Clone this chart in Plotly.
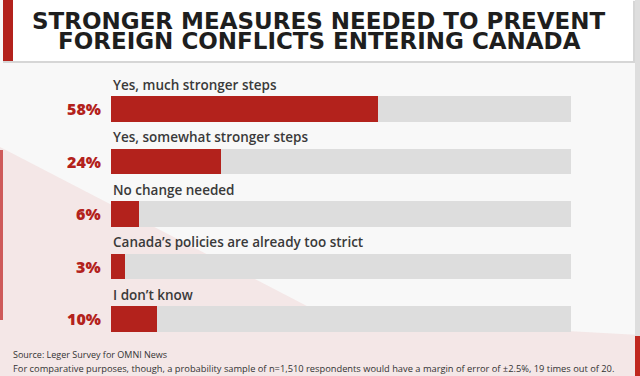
import plotly.graph_objects as go

# ---- data ----
categories = [
    "Yes, much stronger steps",
    "Yes, somewhat stronger steps",
    "No change needed",
    "Canada\u2019s policies are already too strict",
    "I don\u2019t know",
]
values = [58, 24, 6, 3, 10]
pct_labels = ["58%", "24%", "6%", "3%", "10%"]
title_lines = ["STRONGER MEASURES NEEDED TO PREVENT", "FOREIGN CONFLICTS ENTERING CANADA"]
source_text = "Source: Leger Survey for OMNI News"
note_text = ("For comparative purposes, though, a probability sample of n=1,510 respondents "
             "would have a margin of error of \u00b12.5%, 19 times out of 20.")

W, H = 640, 376
RED = "#b3221c"
TRACK = "#dddddd"
BG = "#f8f8f8"

def px(x):
    return x / W

def py(y):
    return 1 - y / H

idx = list(range(len(categories)))

fig = go.Figure()
# background track (100%)
fig.add_trace(go.Bar(
    x=[100] * len(categories), y=idx, orientation="h",
    marker=dict(color=TRACK, line=dict(width=0)), width=0.49,
    hoverinfo="skip", showlegend=False,
))
fig.add_trace(go.Bar(
    x=values, y=idx, orientation="h",
    marker=dict(color=RED, line=dict(width=0)), width=0.49,
    showlegend=False, name="",
    customdata=categories,
    hovertemplate="%{customdata}: %{x}%<extra></extra>",
))

annotations = []
for i, (c, p) in enumerate(zip(categories, pct_labels)):
    annotations.append(dict(
        x=0, y=i - 0.46, xref="x", yref="y", text=c, showarrow=False,
        xanchor="left", yanchor="middle",
        font=dict(family="Open Sans", size=13.5, color="#3a3a3a", weight=600),
    ))
    annotations.append(dict(
        x=-1.7, y=i, xref="x", yref="y", text=p, showarrow=False,
        xanchor="right", yanchor="middle",
        font=dict(family="Open Sans", size=16, color=RED, weight=800),
    ))

for k, line in enumerate(title_lines):
    annotations.append(dict(
        x=px(319), y=py(21.5 + 20 * k), xref="paper", yref="paper", text=line,
        showarrow=False, xanchor="center", yanchor="middle",
        font=dict(family="DejaVu Sans", size=23, color="#1e1e1e", weight=700),
    ))
annotations.append(dict(
    x=px(11), y=py(354), xref="paper", yref="paper", text=source_text,
    showarrow=False, xanchor="left", yanchor="middle",
    font=dict(family="Open Sans", size=9, color="#333333"),
))
annotations.append(dict(
    x=px(11), y=py(368), xref="paper", yref="paper", text=note_text,
    showarrow=False, xanchor="left", yanchor="middle",
    font=dict(family="Open Sans", size=9.3, color="#333333"),
))

shapes = [
    # pink diagonal background
    dict(type="path", xref="paper", yref="paper", layer="below",
         path=f"M 0 {py(147)} L {px(330)} {py(318)} L {px(640)} {py(335)} L 1 0 L 0 0 Z",
         fillcolor="rgba(215,70,70,0.09)", line=dict(width=0)),
    # left red edge
    dict(type="rect", xref="paper", yref="paper", layer="below",
         x0=0, x1=px(3), y0=py(320), y1=py(150),
         fillcolor="rgba(190,30,30,0.7)", line=dict(width=0)),
    # right grey edge
    dict(type="rect", xref="paper", yref="paper", layer="below",
         x0=px(635), x1=1, y0=py(336), y1=1,
         fillcolor="#dedede", line=dict(width=0)),
    dict(type="rect", xref="paper", yref="paper", layer="below",
         x0=px(635), x1=1, y0=0, y1=py(336),
         fillcolor="#c0281f", line=dict(width=0)),
    # title box shadow
    dict(type="rect", xref="paper", yref="paper", layer="below",
         x0=px(3), x1=px(635), y0=py(63), y1=py(1),
         fillcolor="#d6d6d6", line=dict(width=0)),
    # title box
    dict(type="rect", xref="paper", yref="paper", layer="below",
         x0=px(3), x1=px(633), y0=py(61), y1=py(0),
         fillcolor="#ffffff", line=dict(width=0)),
    # title red strip
    dict(type="rect", xref="paper", yref="paper", layer="below",
         x0=px(3), x1=px(13), y0=py(61), y1=py(0),
         fillcolor=RED, line=dict(width=0)),
]

x_left = -111 / 4.6
x_right = (W - 111) / 4.6
fig.update_layout(
    width=W, height=H, autosize=False,
    margin=dict(l=0, r=0, t=0, b=0, pad=0),
    paper_bgcolor=BG, plot_bgcolor="rgba(0,0,0,0)",
    barmode="overlay", bargap=0,
    xaxis=dict(range=[x_left, x_right], visible=False, fixedrange=True),
    yaxis=dict(range=[(H - 109) / 52.5, -109 / 52.5], visible=False, fixedrange=True),
    annotations=annotations, shapes=shapes,
    font=dict(family="Open Sans"),
)

fig.write_html(
    "out.html",
    config={"displayModeBar": False},
    post_script="document.body.style.margin='0px';document.body.style.overflow='hidden';",
)
